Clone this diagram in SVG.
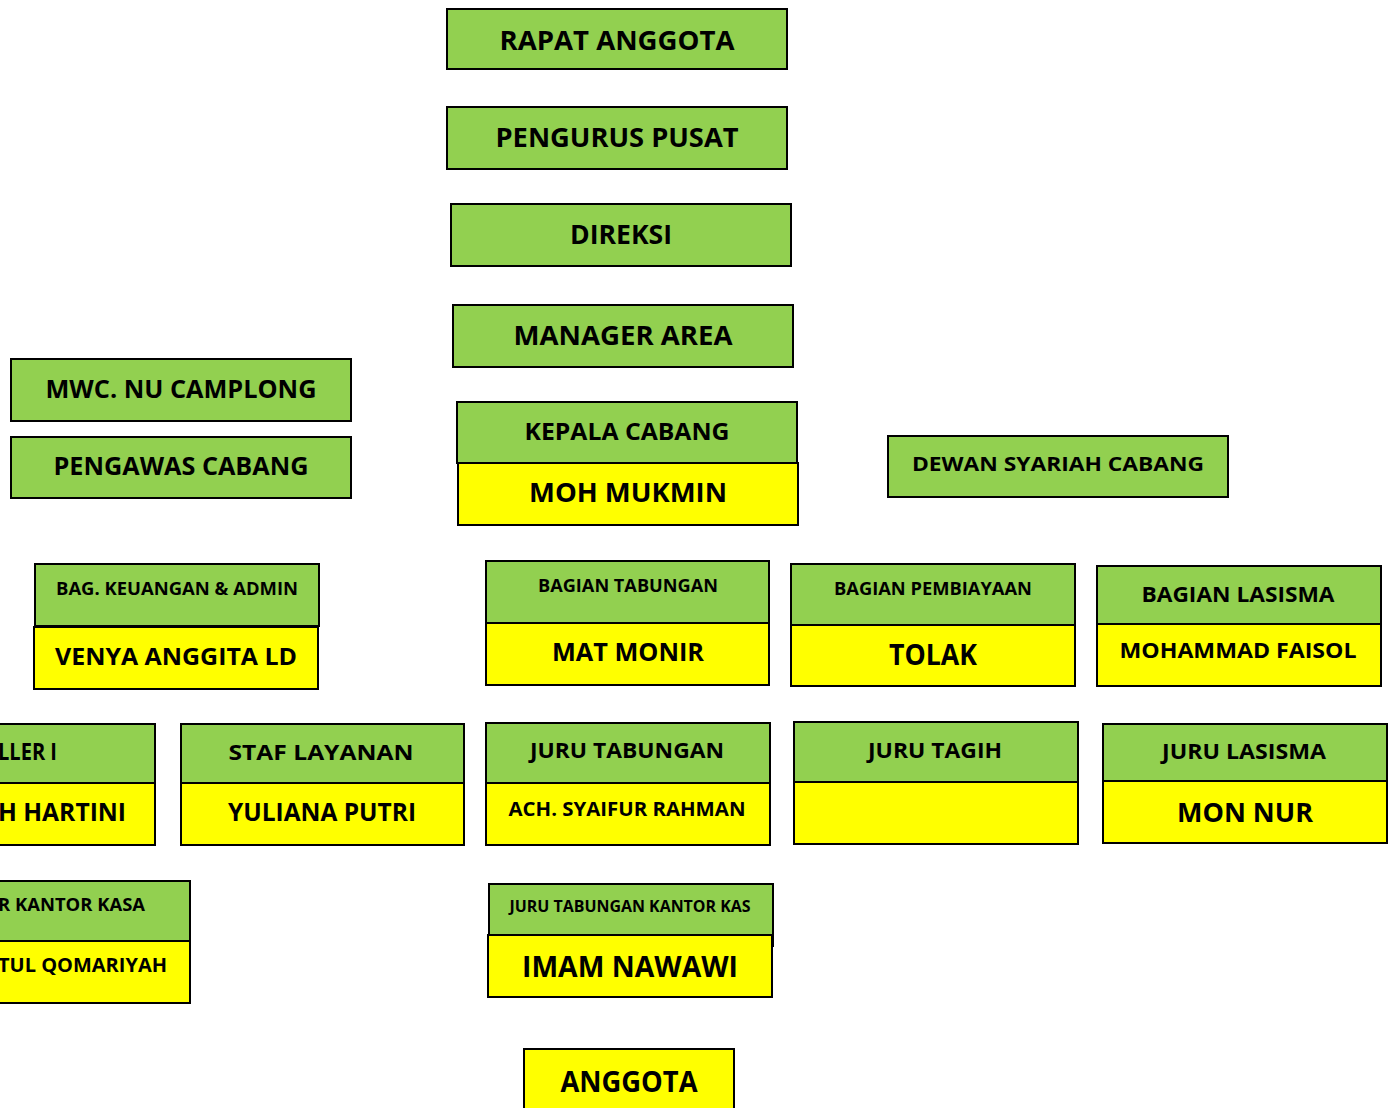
<svg xmlns="http://www.w3.org/2000/svg" width="1389" height="1108" viewBox="0 0 1389 1108">
<style>
.g{fill:#92D050;stroke:#000;stroke-width:2}
.y{fill:#FFFF00;stroke:#000;stroke-width:2}
text{font-family:"Open Sans","Liberation Sans",sans-serif;font-weight:700;fill:#000;text-anchor:middle}
.e{text-anchor:end}
</style>
<rect width="1389" height="1108" fill="#fff"/>
<g id="connectors"/>
<g id="rapat-anggota"><rect class="g" x="447" y="9" width="340" height="60"/><text x="617" y="50" font-size="26" textLength="235" lengthAdjust="spacingAndGlyphs">RAPAT ANGGOTA</text></g>
<g id="pengurus-pusat"><rect class="g" x="447" y="107" width="340" height="62"/><text x="617" y="147" font-size="26" textLength="243" lengthAdjust="spacingAndGlyphs">PENGURUS PUSAT</text></g>
<g id="direksi"><rect class="g" x="451" y="204" width="340" height="62"/><text x="621" y="244" font-size="26" textLength="102" lengthAdjust="spacingAndGlyphs">DIREKSI</text></g>
<g id="manager-area"><rect class="g" x="453" y="305" width="340" height="62"/><text x="623" y="345" font-size="26" textLength="219" lengthAdjust="spacingAndGlyphs">MANAGER AREA</text></g>
<g id="mwc-nu"><rect class="g" x="11" y="359" width="340" height="62"/><text x="181" y="398" font-size="25" textLength="271" lengthAdjust="spacingAndGlyphs">MWC. NU CAMPLONG</text></g>
<g id="pengawas-cabang"><rect class="g" x="11" y="437" width="340" height="61"/><text x="181" y="475" font-size="25" textLength="255" lengthAdjust="spacingAndGlyphs">PENGAWAS CABANG</text></g>
<g id="kepala-cabang"><rect class="g" x="457" y="402" width="340" height="61"/><rect class="y" x="458" y="463" width="340" height="62"/><text x="627" y="440" font-size="24" textLength="205" lengthAdjust="spacingAndGlyphs">KEPALA CABANG</text><text x="628" y="502" font-size="27" textLength="198" lengthAdjust="spacingAndGlyphs">MOH MUKMIN</text></g>
<g id="dewan-syariah"><rect class="g" x="888" y="436" width="340" height="61"/><text x="1058" y="471" font-size="20" textLength="292" lengthAdjust="spacingAndGlyphs">DEWAN SYARIAH CABANG</text></g>
<g id="bag-keuangan"><rect class="g" x="35" y="564" width="284" height="62"/><rect class="y" x="34" y="627" width="284" height="62"/><text x="177" y="595" font-size="17" textLength="242" lengthAdjust="spacingAndGlyphs">BAG. KEUANGAN &amp; ADMIN</text><text x="176" y="665" font-size="24" textLength="242" lengthAdjust="spacingAndGlyphs">VENYA ANGGITA LD</text></g>
<g id="bagian-tabungan"><rect class="g" x="486" y="561" width="283" height="62"/><rect class="y" x="486" y="623" width="283" height="62"/><text x="628" y="592" font-size="17" textLength="180" lengthAdjust="spacingAndGlyphs">BAGIAN TABUNGAN</text><text x="628" y="661" font-size="25" textLength="152" lengthAdjust="spacingAndGlyphs">MAT MONIR</text></g>
<g id="bagian-pembiayaan"><rect class="g" x="791" y="564" width="284" height="61"/><rect class="y" x="791" y="625" width="284" height="61"/><text x="933" y="595" font-size="17" textLength="198" lengthAdjust="spacingAndGlyphs">BAGIAN PEMBIAYAAN</text><text x="933" y="665" font-size="28" textLength="88" lengthAdjust="spacingAndGlyphs">TOLAK</text></g>
<g id="bagian-lasisma"><rect class="g" x="1097" y="566" width="284" height="58"/><rect class="y" x="1097" y="624" width="284" height="62"/><text x="1238" y="602" font-size="21" textLength="193" lengthAdjust="spacingAndGlyphs">BAGIAN LASISMA</text><text x="1238" y="658" font-size="21" textLength="237" lengthAdjust="spacingAndGlyphs">MOHAMMAD FAISOL</text></g>
<g id="teller"><rect class="g" x="-130" y="724" width="285" height="59"/><rect class="y" x="-130" y="783" width="285" height="62"/><text class="e" x="57" y="760" font-size="23" textLength="59" lengthAdjust="spacingAndGlyphs">LLER I</text><text class="e" x="126" y="821" font-size="25" textLength="128" lengthAdjust="spacingAndGlyphs">H HARTINI</text></g>
<g id="staf-layanan"><rect class="g" x="181" y="724" width="283" height="59"/><rect class="y" x="181" y="783" width="283" height="62"/><text x="321" y="760" font-size="22" textLength="185" lengthAdjust="spacingAndGlyphs">STAF LAYANAN</text><text x="322" y="821" font-size="25" textLength="188" lengthAdjust="spacingAndGlyphs">YULIANA PUTRI</text></g>
<g id="juru-tabungan"><rect class="g" x="486" y="723" width="284" height="60"/><rect class="y" x="486" y="783" width="284" height="62"/><text x="627" y="758" font-size="21" textLength="194" lengthAdjust="spacingAndGlyphs">JURU TABUNGAN</text><text x="627" y="816" font-size="19" textLength="237" lengthAdjust="spacingAndGlyphs">ACH. SYAIFUR RAHMAN</text></g>
<g id="juru-tagih"><rect class="g" x="794" y="722" width="284" height="60"/><rect class="y" x="794" y="782" width="284" height="62"/><text x="935" y="758" font-size="21" textLength="134" lengthAdjust="spacingAndGlyphs">JURU TAGIH</text></g>
<g id="juru-lasisma"><rect class="g" x="1103" y="724" width="284" height="57"/><rect class="y" x="1103" y="781" width="284" height="62"/><text x="1244" y="759" font-size="21" textLength="164" lengthAdjust="spacingAndGlyphs">JURU LASISMA</text><text x="1245" y="822" font-size="27" textLength="136" lengthAdjust="spacingAndGlyphs">MON NUR</text></g>
<g id="teller-kantor-kasa"><rect class="g" x="-95" y="881" width="285" height="60"/><rect class="y" x="-95" y="941" width="285" height="62"/><text class="e" x="145" y="911" font-size="17" textLength="147" lengthAdjust="spacingAndGlyphs">R KANTOR KASA</text><text class="e" x="167" y="972" font-size="19" textLength="169" lengthAdjust="spacingAndGlyphs">TUL QOMARIYAH</text></g>
<g id="juru-tabungan-kantor-kas"><rect class="g" x="489" y="884" width="284" height="62"/><rect class="y" x="488" y="935" width="284" height="62"/><text x="630" y="912" font-size="16" textLength="241" lengthAdjust="spacingAndGlyphs">JURU TABUNGAN KANTOR KAS</text><text x="630" y="977" font-size="29" textLength="216" lengthAdjust="spacingAndGlyphs">IMAM NAWAWI</text></g>
<g id="anggota"><rect class="y" x="524" y="1049" width="210" height="70"/><text x="629" y="1092" font-size="28" textLength="137" lengthAdjust="spacingAndGlyphs">ANGGOTA</text></g>
</svg>
